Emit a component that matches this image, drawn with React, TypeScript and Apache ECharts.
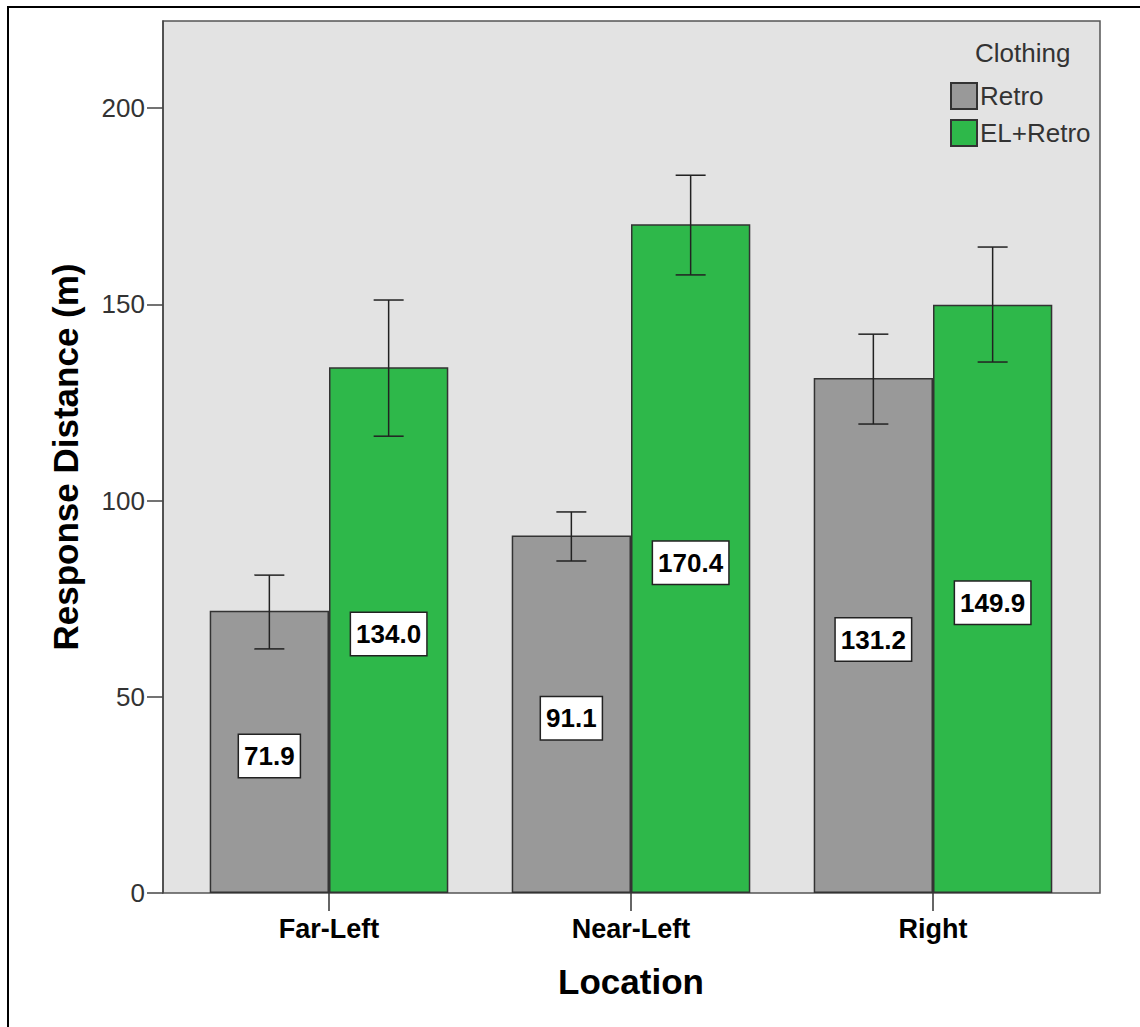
import React, { useEffect, useRef } from "react";
import * as echarts from "echarts";

const categories = ["Far-Left", "Near-Left", "Right"];
const retroMeans = [71.9, 91.1, 131.2];
const elMeans = [134.0, 170.4, 149.9];
const retroLow = [62.2, 84.6, 119.5];
const retroHigh = [81.0, 97.1, 142.4];
const elLow = [116.4, 157.5, 135.3];
const elHigh = [151.1, 182.9, 164.6];
const yTicks = [0, 50, 100, 150, 200];
const yMax = 222.2;
const seriesNames = ["Retro", "EL+Retro"];

const FONT = "'Liberation Sans', Arial, sans-serif";
const GAP = 0.21;

export default function App() {
  const ref = useRef<HTMLDivElement>(null);
  useEffect(() => {
    if (!ref.current) return;
    const chart = echarts.init(ref.current, undefined, { renderer: "svg" });
    const errData: number[][] = [];
    categories.forEach((_, i) => {
      errData.push([i, retroLow[i], retroHigh[i], 0]);
      errData.push([i, elLow[i], elHigh[i], 1]);
    });
    const labelCfg = {
      show: true,
      position: "inside",
      offset: [0, 4],
      formatter: (p: any) => Number(p.value).toFixed(1),
      backgroundColor: "#ffffff",
      borderColor: "#222",
      borderWidth: 1.5,
      padding: [8, 5, 8, 5],
      fontSize: 26,
      lineHeight: 26,
      fontWeight: "bold",
      color: "#000",
      fontFamily: FONT,
    };
    chart.setOption({
      animation: false,
      backgroundColor: "#ffffff",
      textStyle: { fontFamily: FONT },
      grid: [
        { left: 178, top: 21, width: 906, height: 872 },
        {
          left: 163,
          top: 21,
          width: 937,
          height: 872,
          show: true,
          backgroundColor: "#e3e3e3",
          borderColor: "#555",
          borderWidth: 1.5,
        },
      ],
      xAxis: [
        {
          type: "category",
          gridIndex: 0,
          data: categories,
          boundaryGap: true,
          axisLine: { show: false },
          axisTick: {
            show: true,
            alignWithLabel: true,
            length: 18,
            lineStyle: { color: "#333", width: 1.5 },
          },
          axisLabel: {
            fontSize: 27,
            fontWeight: "bold",
            color: "#000",
            margin: 22,
            fontFamily: FONT,
          },
          name: "Location",
          nameLocation: "middle",
          nameGap: 71,
          nameTextStyle: { fontSize: 35, fontWeight: "bold", color: "#000", fontFamily: FONT },
        },
        { type: "value", gridIndex: 1, show: false, min: 0, max: 1 },
      ],
      yAxis: [
        {
          type: "value",
          gridIndex: 1,
          min: 0,
          max: yMax,
          interval: 50,
          splitLine: { show: false },
          axisLine: { show: true, lineStyle: { color: "#444", width: 1.5 } },
          axisTick: {
            show: true,
            length: 16,
            customValues: yTicks,
            lineStyle: { color: "#444", width: 1.5 },
          },
          axisLabel: {
            customValues: yTicks,
            fontSize: 26,
            color: "#333",
            margin: 18,
            fontFamily: FONT,
          },
          name: "Response Distance (m)",
          nameLocation: "middle",
          nameGap: 80,
          nameTextStyle: { fontSize: 35, fontWeight: "bold", color: "#000", fontFamily: FONT },
        },
        { type: "value", gridIndex: 0, min: 0, max: yMax, show: false, splitLine: { show: false } },
      ],
      legend: {
        data: seriesNames,
        orient: "vertical",
        left: 950,
        top: 82,
        padding: 0,
        itemWidth: 26,
        itemHeight: 26,
        itemGap: 9,
        icon: "rect",
        textStyle: { fontSize: 26, color: "#333", fontFamily: FONT, padding: [0, 0, 0, -2] },
      },
      graphic: [
        {
          type: "text",
          left: 975,
          top: 40,
          style: { text: "Clothing", fontSize: 26, fill: "#333", fontFamily: FONT },
        },
        {
          type: "rect",
          shape: { x: 8, y: 7, width: 1300, height: 1200 },
          style: { fill: "none", stroke: "#000", lineWidth: 2 },
          silent: true,
        },
      ],
      series: [
        {
          name: seriesNames[0],
          type: "bar",
          xAxisIndex: 0,
          yAxisIndex: 1,
          data: retroMeans,
          barGap: "0%",
          barCategoryGap: "21%",
          itemStyle: { color: "#999999", borderColor: "#333", borderWidth: 1.5 },
          label: labelCfg,
        },
        {
          name: seriesNames[1],
          type: "bar",
          xAxisIndex: 0,
          yAxisIndex: 1,
          data: elMeans,
          barGap: "0%",
          barCategoryGap: "21%",
          itemStyle: { color: "#2eb84a", borderColor: "#333", borderWidth: 1.5 },
          label: labelCfg,
        },
        {
          type: "custom",
          xAxisIndex: 0,
          yAxisIndex: 1,
          data: errData,
          encode: { x: 0, y: [1, 2] },
          z: 3,
          silent: true,
          renderItem: (params: any, api: any) => {
            const cat = api.value(0);
            const lo = api.value(1);
            const hi = api.value(2);
            const s = api.value(3);
            const band = api.size([1, 0])[0];
            const off = (s === 0 ? -1 : 1) * (band * (1 - GAP)) / 4;
            const pLo = api.coord([cat, lo]);
            const pHi = api.coord([cat, hi]);
            const x = pLo[0] + off;
            const cap = 15;
            const style = { stroke: "#222", lineWidth: 1.5 };
            return {
              type: "group",
              children: [
                { type: "line", shape: { x1: x, y1: pHi[1], x2: x, y2: pLo[1] }, style },
                { type: "line", shape: { x1: x - cap, y1: pHi[1], x2: x + cap, y2: pHi[1] }, style },
                { type: "line", shape: { x1: x - cap, y1: pLo[1], x2: x + cap, y2: pLo[1] }, style },
              ],
            };
          },
        },
      ],
    });
    return () => chart.dispose();
  }, []);
  return (
    <div
      ref={ref}
      style={{ position: "fixed", left: 0, top: 0, width: 1140, height: 1027 }}
    />
  );
}
